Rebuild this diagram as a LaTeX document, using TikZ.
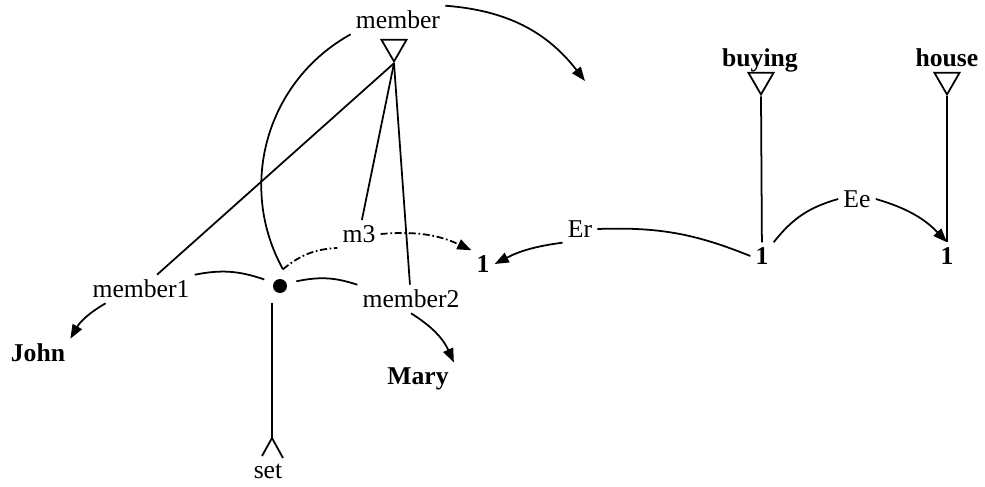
\documentclass[tikz,border=0pt]{standalone}
\usepackage{fontspec}
\setmainfont{Liberation Serif}
\usetikzlibrary{positioning,arrows.meta,shapes.geometric}
\tikzset{
  lbl/.style={inner sep=2.5pt,font=\fontsize{14.6}{16}\selectfont},
  word/.style={inner sep=2.5pt,font=\fontsize{14.6}{16}\selectfont\bfseries},
  tri/.style={draw,regular polygon,regular polygon sides=3,shape border rotate=180,
    minimum size=0.58cm,inner sep=0pt},
  blob/.style={circle,fill,inner sep=0pt,minimum size=0.28cm,outer sep=0.2cm},
  arc/.style={-{Triangle[length=8pt,width=6pt]}},
  dashdot/.style={dash pattern=on 4pt off 1.5pt on 1pt off 1.5pt}
}

\begin{document}
\begin{tikzpicture}[x=0.02cm,y=-0.02cm,line width=1pt]
  \useasboundingbox (0,0) rectangle (985,487);
  % the member relation
  \node[lbl] (memberlab) at (398,20) {member};
  \node[tri] (membertri) at (394,47) {};
  \node[lbl] (member1lab) at (141,289) {member1};
  \node[lbl] (member2lab) at (411,299) {member2};
  \node[lbl] (m3lab) at (359,234) {m3};
  \node[blob] (dot) at (280,286) {};
  \node[word] (john) at (38,353) {John};
  \node[word] (mary) at (418,379) {Mary};
  \coordinate (setpeak) at (272,438);
  \node[lbl] (setlab) at (268,471) {set};
  \coordinate (nowhere) at (585,81);

  % the buying event
  \node[word] (one1) at (483,264) {1};
  \node[word] (one2) at (762,256) {1};
  \node[word] (one3) at (947,256) {1};
  \node[word] (buying) at (760,60) {buying};
  \node[tri] (buyingtri) at (761,80) {};
  \node[word] (house) at (947,58) {house};
  \node[tri] (housetri) at (947,80) {};
  \node[lbl] (erlab) at (580,229) {Er};
  \node[lbl] (eelab) at (857,199) {Ee};

  \draw (membertri.corner 1) -- (member1lab);
  \draw (membertri.corner 1) -- (m3lab);
  \draw (membertri.corner 1) -- (member2lab);
  \draw[arc] (member1lab.202) to[bend right=15] (john.north east);
  \draw[arc] (member2lab.south) to[bend left=17] (mary.north east);
  \draw (dot) to[bend right=15] (member1lab.north east);
  \draw (dot) to[bend left=15] (member2lab.north west);
  \draw[dashdot] (dot.80) to[bend left=18] (m3lab.south west);
  \draw[arc,dashdot] (m3lab.east) to[bend left=15] (one1.north west);
  \draw (dot.80) to[bend left=45] (memberlab.south west);
  \draw[arc] (memberlab.north east) to[bend left=24] (nowhere);
  \draw (setpeak |- dot.south) -- (setpeak);
  \draw (setpeak) ++(-10,18) -- (setpeak) -- ++(11,20);

  \draw (buyingtri.corner 1) -- (one2);
  \draw (housetri.corner 1) -- (one3);
  \draw (one2.west) to[bend right=12] (erlab.east);
  \draw[arc] (erlab.south west) to[bend right=10] (one1.east);
  \draw (one2.north east) to[bend left=18] (eelab.west);
  \draw[arc] (eelab.east) to[bend left=15] (one3.north);
\end{tikzpicture}
\end{document}
